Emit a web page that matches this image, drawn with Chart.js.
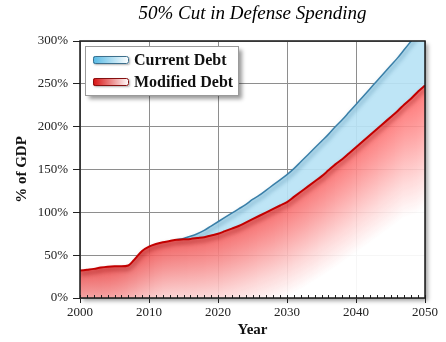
<!DOCTYPE html>
<html>
<head>
<meta charset="utf-8">
<script src="https://cdn.jsdelivr.net/npm/chart.js@4.4.1/dist/chart.umd.min.js"></script>
<style>
  html, body { margin: 0; padding: 0; background: #fff; }
  #wrap { width: 446px; height: 342px; }
</style>
</head>
<body>
<div id="wrap"><canvas id="c" width="446" height="342"></canvas></div>
<script>
// Debt as % of GDP, 2000-2050
const years = [2000,2001,2002,2003,2004,2005,2006,2007,2008,2009,
               2010,2011,2012,2013,2014,2015,2016,2017,2018,2019,
               2020,2021,2022,2023,2024,2025,2026,2027,2028,2029,
               2030,2031,2032,2033,2034,2035,2036,2037,2038,2039,
               2040,2041,2042,2043,2044,2045,2046,2047,2048,2049,2050];

const modifiedDebt = [32,33,34,35.5,36.5,37,37,38,46,55,
                      60,63,65,66.5,68,68.5,69,70,71,73,
                      75,78,81,84,88,92,96,100,104,108,
                      112,118,124,130,136,142,149,156,162,169,
                      176,183,190,197,204,211,218,226,233,241,248];

// Current-policy path splits off from 2014 onward
const currentDebt = [null,null,null,null,null,null,null,null,null,null,
                     null,null,null,null,68,69.5,72,75,79,84,
                     89,94,99,104,109,115,120,126,132,138,
                     144,151,159,167,175,183,191,200,208,217,
                     226,235,244,253,262,271,280,290,300,310,320];

const yTickValues = [0,50,100,150,200,250,300];
const xTickValues = [2000,2010,2020,2030,2040,2050];
const minorYears = years;

const SERIF = '"Liberation Serif", "Times New Roman", serif';

function valueAt(xs, ys, x) {
  if (x <= xs[0]) return ys[0];
  for (let i = 1; i < xs.length; i++) {
    if (x <= xs[i]) {
      const t = (x - xs[i - 1]) / (xs[i] - xs[i - 1]);
      return ys[i - 1] + t * (ys[i] - ys[i - 1]);
    }
  }
  return ys[ys.length - 1];
}

// Red area: strong colour along the curve, fading to white further down
let shadeCache = null;
function redShade(ctx) {
  const chart = ctx.chart;
  const area = chart.chartArea;
  if (!area || !chart.scales.x || !chart.scales.y) return 'rgba(240,110,110,0.85)';
  const key = [area.left, area.top, area.right, area.bottom].join(',');
  if (shadeCache && shadeCache.key === key) return shadeCache.pattern;
  const xs = chart.scales.x, ys = chart.scales.y;
  const off = document.createElement('canvas');
  off.width = chart.width; off.height = chart.height;
  const g = off.getContext('2d');
  const w = area.right - area.left;
  const mix = (c, k) => Math.round(c + (255 - c) * k);
  const x0 = Math.floor(area.left), x1 = Math.ceil(area.right) + 1;
  const lineY = [];
  for (let px = x0; px < x1; px++) {
    lineY.push(ys.getPixelForValue(valueAt(years, modifiedDebt, xs.getValueForPixel(px + 0.5))));
  }
  const R = 22;
  for (let i = 0; i < lineY.length; i++) {
    const px = x0 + i;
    let sum = 0, n = 0;
    for (let k = Math.max(0, i - R); k <= Math.min(lineY.length - 1, i + R); k++) { sum += lineY[k]; n++; }
    const yS = Math.min(sum / n, lineY[i] + 6);
    const yL = lineY[i];
    const fx = Math.min(1, Math.max(0, (px - area.left) / w));
    const L = 66 + 50 * fx;
    const r = Math.round(234 + (255 - 234) * fx);
    const gg = Math.round(72 + (112 - 72) * fx);
    const grad = g.createLinearGradient(0, yS, 0, yS + L);
    grad.addColorStop(0, `rgba(${r},${gg},${gg},0.9)`);
    grad.addColorStop(0.35, `rgba(${mix(r,0.35)},${mix(gg,0.35)},${mix(gg,0.35)},0.9)`);
    grad.addColorStop(0.7, `rgba(${mix(r,0.72)},${mix(gg,0.72)},${mix(gg,0.72)},0.9)`);
    grad.addColorStop(1, 'rgba(255,255,255,0.92)');
    g.fillStyle = grad;
    g.fillRect(px, yL - 4, 1, area.bottom - yL + 4);
  }
  const pattern = chart.ctx.createPattern(off, 'no-repeat');
  shadeCache = { key, pattern };
  return pattern;
}

// Soft shadow under each curve
const lineShadow = {
  id: 'lineShadow',
  beforeDatasetDraw(chart, args) {
    const c = chart.ctx;
    c.save();
    c.shadowColor = args.index === 1 ? 'rgba(110,0,0,0.55)' : 'rgba(20,90,130,0.6)';
    c.shadowBlur = 4;
    c.shadowOffsetX = 1;
    c.shadowOffsetY = 3;
  },
  afterDatasetDraw(chart) {
    chart.ctx.restore();
  }
};

// Plot frame with drop shadow, minor year ticks and the boxed legend
const frameAndLegend = {
  id: 'frameAndLegend',
  beforeDraw(chart) {
    const c = chart.ctx, a = chart.chartArea;
    c.save();
    c.shadowColor = 'rgba(0,0,0,0.35)';
    c.shadowBlur = 4;
    c.shadowOffsetX = 3;
    c.shadowOffsetY = 3;
    c.fillStyle = '#fff';
    c.fillRect(a.left, a.top, a.right - a.left, a.bottom - a.top);
    c.restore();
  },
  afterDraw(chart) {
    const c = chart.ctx, a = chart.chartArea;
    const xs = chart.scales.x;
    c.save();
    // minor ticks, one per year, pointing into the plot
    c.strokeStyle = '#222';
    c.lineWidth = 1;
    c.beginPath();
    minorYears.forEach(yr => {
      const px = Math.round(xs.getPixelForValue(yr)) + 0.5;
      c.moveTo(px, a.bottom);
      c.lineTo(px, a.bottom - 3);
    });
    c.stroke();
    // frame
    c.strokeStyle = '#1a1a1a';
    c.lineWidth = 1.5;
    c.strokeRect(a.left, a.top, a.right - a.left, a.bottom - a.top);

    // legend box
    const lx = 85.5, ly = 46.5, lw = 153, lh = 49;
    c.save();
    c.shadowColor = 'rgba(0,0,0,0.4)';
    c.shadowBlur = 4;
    c.shadowOffsetX = 3;
    c.shadowOffsetY = 3;
    c.fillStyle = '#fff';
    c.fillRect(lx, ly, lw, lh);
    c.restore();
    c.strokeStyle = '#9a9a9a';
    c.lineWidth = 1;
    c.strokeRect(lx, ly, lw, lh);

    const swatches = [
      { from: '#55b9e4', border: '#3d6f8c', y: 56 },
      { from: '#d81010', border: '#851010', y: 78 }
    ];
    chart.data.datasets.forEach((ds, i) => {
      const s = swatches[i];
      const sx = 93, sw = 36, sh = 8;
      const grad = c.createLinearGradient(sx, 0, sx + sw, 0);
      grad.addColorStop(0, s.from);
      grad.addColorStop(1, '#ffffff');
      c.save();
      c.shadowColor = 'rgba(0,0,0,0.3)';
      c.shadowBlur = 2;
      c.shadowOffsetX = 1;
      c.shadowOffsetY = 1;
      c.beginPath();
      c.roundRect(sx, s.y, sw, sh, 2);
      c.fillStyle = grad;
      c.fill();
      c.restore();
      c.beginPath();
      c.roundRect(sx + 0.5, s.y + 0.5, sw - 1, sh - 1, 2);
      c.strokeStyle = s.border;
      c.lineWidth = 1;
      c.stroke();
      c.fillStyle = '#111';
      c.font = 'bold 16px ' + SERIF;
      c.textBaseline = 'middle';
      c.textAlign = 'left';
      c.fillText(ds.label, 134, s.y + 4.5);
    });
    c.restore();
  }
};

const toPoints = vals => years.map((yr, i) => ({ x: yr, y: vals[i] }));

new Chart(document.getElementById('c'), {
  type: 'line',
  data: {
    datasets: [
      {
        label: 'Current Debt',
        data: toPoints(currentDebt),
        borderColor: '#3a7fa8',
        borderWidth: 1.5,
        backgroundColor: 'rgba(185,227,245,0.92)',
        fill: '+1',
        pointRadius: 0,
        cubicInterpolationMode: 'monotone',
        order: 1
      },
      {
        label: 'Modified Debt',
        data: toPoints(modifiedDebt),
        borderColor: '#c20000',
        borderWidth: 2,
        backgroundColor: redShade,
        fill: 'origin',
        pointRadius: 0,
        cubicInterpolationMode: 'monotone',
        order: 0
      }
    ]
  },
  options: {
    responsive: false,
    devicePixelRatio: 1,
    animation: false,
    events: [],
    layout: { padding: { top: 3, right: 21, bottom: 0, left: 0 } },
    plugins: {
      legend: { display: false },
      tooltip: { enabled: false },
      title: {
        display: true,
        text: '50% Cut in Defense Spending',
        fullSize: false,
        color: '#000',
        font: { family: SERIF, size: 19, style: 'italic', weight: 'normal' },
        padding: { top: 0, bottom: 15.2 }
      }
    },
    scales: {
      x: {
        type: 'linear',
        min: 2000,
        max: 2050,
        afterBuildTicks: s => { s.ticks = xTickValues.map(v => ({ value: v })); },
        afterFit: s => { s.height = 44; },
        ticks: {
          callback: v => String(v),
          color: '#222',
          font: { family: SERIF, size: 13 },
          padding: 2,
          maxRotation: 0,
          autoSkip: false
        },
        grid: { color: '#8e8e8e', lineWidth: 1, tickLength: 5, tickColor: '#222' },
        border: { display: false },
        title: {
          display: true,
          text: 'Year',
          color: '#111',
          font: { family: SERIF, size: 15, weight: 'bold' },
          padding: { top: 0, bottom: 3 }
        }
      },
      y: {
        min: 0,
        max: 300,
        afterBuildTicks: s => { s.ticks = yTickValues.map(v => ({ value: v })); },
        afterFit: s => { s.width = 80; },
        ticks: {
          callback: v => v + '%',
          color: '#222',
          font: { family: SERIF, size: 13 },
          padding: 5
        },
        grid: { color: '#8e8e8e', lineWidth: 1, tickLength: 7, tickColor: '#222' },
        border: { display: false },
        title: {
          display: true,
          text: '% of GDP',
          color: '#111',
          font: { family: SERIF, size: 15, weight: 'bold' },
          padding: { top: 13, bottom: 0 }
        }
      }
    }
  },
  plugins: [lineShadow, frameAndLegend]
});
</script>
</body>
</html>
